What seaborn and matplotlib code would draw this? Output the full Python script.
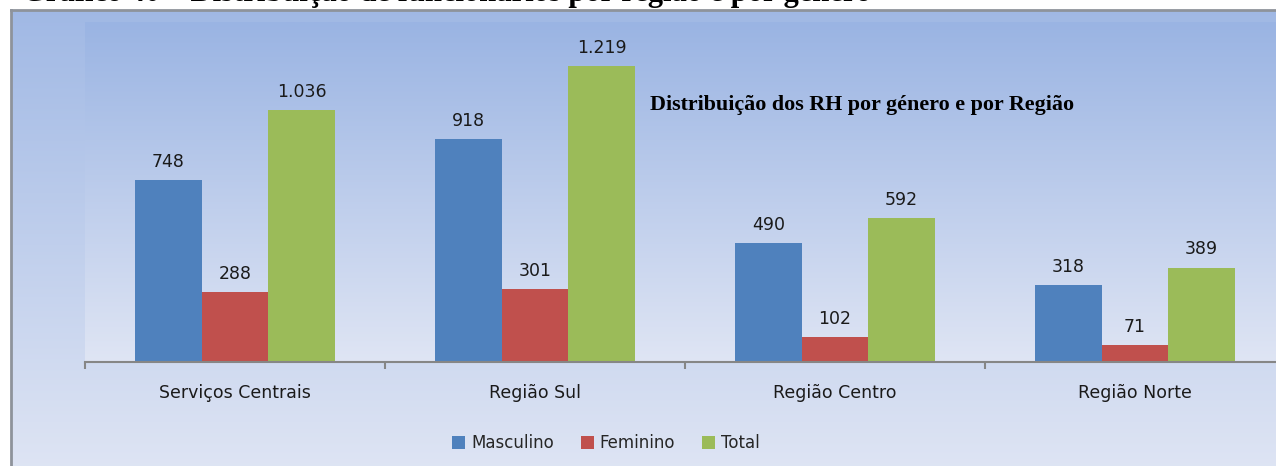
import numpy as np
import pandas as pd
import matplotlib
matplotlib.use("Agg")
import matplotlib.pyplot as plt
from matplotlib.colors import LinearSegmentedColormap
from matplotlib.patches import Patch
import seaborn as sns

# Funcionários por região e por género
regioes = ["Serviços Centrais", "Região Sul", "Região Centro", "Região Norte"]
masculino = [748, 918, 490, 318]
feminino = [288, 301, 102, 71]
total = [1036, 1219, 592, 389]
series = ["Masculino", "Feminino", "Total"]
cores = ["#4f81bd", "#c0504d", "#9bbb59"]

df = pd.DataFrame({
    "regiao": regioes * 3,
    "genero": [s for s in series for _ in regioes],
    "valor": masculino + feminino + total,
})

sns.set_theme(style="white")
plt.rcParams["font.family"] = ["DejaVu Sans"]

W, H = 1276, 466
fig = plt.figure(figsize=(W / 100, H / 100), dpi=100)
fig.patch.set_facecolor("white")

def fx(px):
    return px / W

def fy(py):
    return 1 - py / H

grad = LinearSegmentedColormap.from_list("fundo", ["#9ab4e3", "#dfe5f4"])
vert = np.linspace(0, 1, 256).reshape(-1, 1)

# Chart area frame with vertical gradient (continues past the right and bottom edges)
bg = fig.add_axes([fx(11), -0.02, 1 - fx(11) + 0.01, fy(10) + 0.02])
bg.imshow(vert, aspect="auto", cmap=grad, extent=[0, 1, 0, 1.1], origin="upper")
bg.set_xlim(0, 1)
bg.set_ylim(0, 1)
bg.set_xticks([])
bg.set_yticks([])
for s in bg.spines.values():
    s.set_color("#8e939b")
    s.set_linewidth(2)

# Plot area
x0, x1 = 85, 1285
ytop, ybase = 22, 362
ax = fig.add_axes([fx(x0), fy(ybase), fx(x1 - x0), fy(ytop) - fy(ybase)])
ax.set_facecolor("none")
ax.imshow(vert, aspect="auto", cmap=grad, extent=[0, 1, 0, 1],
          origin="upper", transform=ax.transAxes, zorder=0)

sns.barplot(data=df, x="regiao", y="valor", hue="genero", order=regioes,
            hue_order=series, palette=cores, saturation=1, width=2 / 3,
            linewidth=0, ax=ax, legend=False, zorder=2)

ax.set_xlim(-0.5, len(regioes) - 0.5)
ax.set_ylim(0, 1400)
ax.set_xlabel("")
ax.set_ylabel("")
ax.set_yticks([])

for side in ["top", "right", "left"]:
    ax.spines[side].set_visible(False)
ax.spines["bottom"].set_color("#868686")
ax.spines["bottom"].set_linewidth(1.5)
ax.spines["bottom"].set_zorder(3)

# Category boundary ticks, labels centred between them
ax.set_xticks(np.arange(-0.5, len(regioes), 1.0), minor=False)
ax.set_xticklabels([])
ax.tick_params(axis="x", which="major", direction="out", length=5, width=1.5,
               color="#868686", bottom=True)
ax.set_xticks(np.arange(len(regioes)), minor=True)
ax.set_xticklabels(regioes, minor=True)
ax.tick_params(axis="x", which="minor", length=0, pad=16, labelsize=12.5,
               labelcolor="#1a1a1a")

def fmt(v):
    return f"{v:,}".replace(",", ".")

for cont in ax.containers:
    for bar in cont:
        v = bar.get_height()
        ax.annotate(fmt(int(round(v))), (bar.get_x() + bar.get_width() / 2, v),
                    xytext=(0, 9.5), textcoords="offset points", ha="center",
                    va="baseline", fontsize=12.5, color="#1a1a1a",
                    annotation_clip=False, zorder=4)

# Inner chart title
fig.text(fx(862), fy(105), "Distribuição dos RH por género e por Região",
         ha="center", va="center", fontsize=15.8, fontweight="bold",
         family=["Liberation Serif"], color="black")

# Page heading above the chart
fig.text(fx(22), fy(1.5), "Gráfico 40 – Distribuição de funcionários por região e por género",
         ha="left", va="baseline", fontsize=22, fontweight="bold",
         family=["Liberation Serif"], color="black")

handles = [Patch(facecolor=c, edgecolor="none") for c in cores]
fig.legend(handles, series, loc="center", bbox_to_anchor=(fx(606), fy(443)),
           ncol=3, frameon=False, fontsize=12, handlelength=0.8,
           handleheight=0.8, handletextpad=0.35, columnspacing=1.6)

fig.savefig("out.png", dpi=100)
